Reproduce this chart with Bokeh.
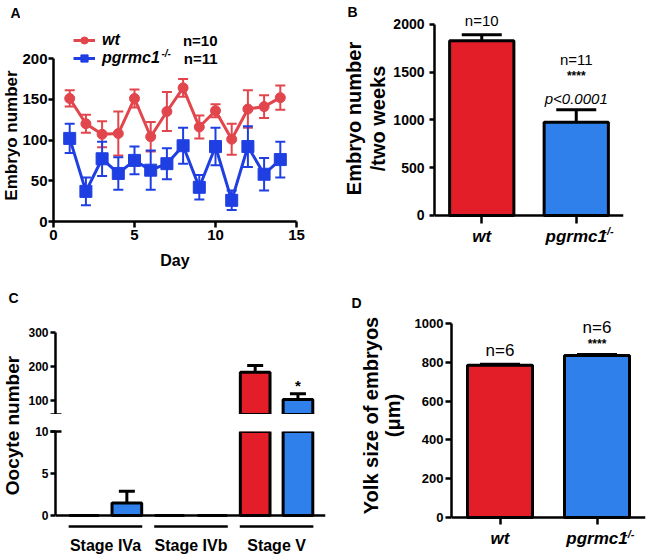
import numpy as np
from bokeh.plotting import figure
from bokeh.models import (Range1d, FactorRange, FixedTicker, Whisker, TeeHead,
                          ColumnDataSource, Label, Legend, LegendItem, Span)
from bokeh.layouts import row, column
from bokeh.embed import file_html
from bokeh.resources import INLINE
from bokeh.core.properties import value

FONT = "Liberation Sans"
RED_LINE = "#E2464D"
BLUE_LINE = "#1F3FE3"
RED_BAR = "#E31E28"
BLUE_BAR = "#2F80EA"

# ---------------- Panel A data ----------------
days = list(range(1, 15))
wt_embryos = [151, 120, 107, 108, 151, 104, 135, 164, 116, 136, 101, 138, 141, 152]
wt_embryos_sem = [10, 11, 16, 27, 11, 18, 24, 11, 14, 8, 19, 23, 14, 15]
ko_embryos = [102, 37, 77, 59, 75, 63, 71, 93, 42, 92, 26, 92, 58, 76]
ko_embryos_sem = [18, 17, 21, 20, 17, 24, 19, 22, 15, 23, 12, 25, 20, 22]
day_ticks = [0, 5, 10, 15]
embryo_ticks = [0, 50, 100, 150, 200]

# ---------------- Panel B data ----------------
genotypes = ["wt", "pgrmc1"]
genotype_sup = "-/-"
n_animals = [10, 11]
total_embryos = [1830, 975]
total_embryos_sem = [63, 133]
total_ticks = [0, 500, 1000, 1500, 2000]
stars_b = "****"
p_value_text = "p<0.0001"

# ---------------- Panel C data ----------------
stages = ["Stage IVa", "Stage IVb", "Stage V"]
oocyte_wt = [0, 0, 183]
oocyte_wt_sem = [0, 0, 20]
oocyte_ko = [1.5, 0, 103]
oocyte_ko_sem = [1.4, 0, 17]
oocyte_ko_sig = ["", "", "*"]
oocyte_low_ticks = [0, 5, 10]
oocyte_high_ticks = [100, 200, 300]
break_low, break_high = 10, 60

# ---------------- Panel D data ----------------
n_yolk = [6, 6]
yolk_size = [785, 835]
yolk_size_sem = [5, 5]
yolk_ticks = [0, 200, 400, 600, 800, 1000]
stars_d = "****"


def make_fig(width, height, x_range, y_range, left, right, top, bottom, x_axis=True, y_axis=True):
    p = figure(width=width, height=height, x_range=x_range, y_range=y_range,
               output_backend="svg", toolbar_location=None,
               x_axis_location="below" if x_axis else None,
               y_axis_location="left" if y_axis else None)
    p.min_border_left = left
    p.min_border_right = right
    p.min_border_top = top
    p.min_border_bottom = bottom
    p.outline_line_color = None
    p.grid.visible = False
    return p


def text_fig(width, height):
    p = figure(width=width, height=height, x_range=Range1d(0, 1), y_range=Range1d(0, 1),
               output_backend="svg", toolbar_location=None,
               x_axis_location=None, y_axis_location=None, min_border=0)
    p.outline_line_color = None
    p.grid.visible = False
    return p


def style_axis(ax, size, tick_out=5, standoff=1):
    ax.axis_line_width = 2.5
    ax.axis_line_color = "black"
    ax.major_tick_line_width = 2.5
    ax.major_tick_line_color = "black"
    ax.major_tick_in = 0
    ax.major_tick_out = tick_out
    ax.minor_tick_line_color = None
    ax.major_label_standoff = standoff
    ax.major_label_text_font = FONT
    ax.major_label_text_font_style = "bold"
    ax.major_label_text_font_size = size
    ax.major_label_text_color = "black"


def label(p, x, y, text, size, style="bold", align="left", baseline="middle", angle=0,
          x_units="screen", y_units="screen", **kw):
    p.add_layout(Label(x=x, y=y, x_units=x_units, y_units=y_units, text=text,
                       text_font=FONT, text_font_size=size, text_font_style=style,
                       text_align=align, text_baseline=baseline, angle=angle,
                       text_color="black", **kw))


# =============== Panel A ===============
a_lab = text_fig(20, 278)
label(a_lab, 15, 266, "A", "14px", align="center")
label(a_lab, 11, 143, "Embryo number", "17px", align="center", angle=np.pi / 2)

# frame fills the whole canvas; both axes are pinned at 0
pa = make_fig(308, 278, Range1d(-2.037, 16.975), Range1d(-69.9, 271.2), 0, 0, 0, 0)
src_a = ColumnDataSource(dict(
    day=days,
    wt=wt_embryos, wt_lo=np.subtract(wt_embryos, wt_embryos_sem), wt_hi=np.add(wt_embryos, wt_embryos_sem),
    ko=ko_embryos, ko_lo=np.subtract(ko_embryos, ko_embryos_sem), ko_hi=np.add(ko_embryos, ko_embryos_sem)))
rends = {}
for key, col, marker, size in (("wt", RED_LINE, "circle", 10), ("ko", BLUE_LINE, "square", 12)):
    pa.add_layout(Whisker(source=src_a, base="day", upper=f"{key}_hi", lower=f"{key}_lo",
                          line_color=col, line_width=2, level="glyph",
                          upper_head=TeeHead(size=10, line_color=col, line_width=2),
                          lower_head=TeeHead(size=10, line_color=col, line_width=2)))
    rl = pa.line("day", key, source=src_a, line_color=col, line_width=3)
    rs = pa.scatter("day", key, source=src_a, marker=marker, size=size, fill_color=col, line_color=col)
    rends[key] = [rl, rs]

style_axis(pa.xaxis[0], "15px", tick_out=6, standoff=2)
style_axis(pa.yaxis[0], "15px", tick_out=5, standoff=1)
pa.xaxis.fixed_location = 0
pa.yaxis.fixed_location = 0
pa.xaxis.ticker = FixedTicker(ticks=day_ticks)
pa.xaxis.bounds = (0, 15)
pa.xaxis.axis_label = "Day"
pa.xaxis.axis_label_text_font = FONT
pa.xaxis.axis_label_text_font_style = "bold"
pa.xaxis.axis_label_text_color = "black"
pa.xaxis.axis_label_text_font_size = "16px"
pa.xaxis.axis_label_standoff = 9
pa.yaxis.ticker = FixedTicker(ticks=embryo_ticks)
pa.yaxis.bounds = (0, 200)

leg = Legend(items=[LegendItem(label=genotypes[0], renderers=rends["wt"]),
                    LegendItem(label=genotypes[1], renderers=rends["ko"])],
             location=(53, 211), orientation="vertical", padding=0, margin=0, spacing=0,
             glyph_width=22, glyph_height=18, label_height=18, label_standoff=7,
             border_line_color=None, background_fill_alpha=0,
             label_text_font=FONT, label_text_font_style="bold italic",
             label_text_font_size="16px", label_text_color="black")
pa.add_layout(leg)
label(pa, 141, 225, genotype_sup, "10px", style="bold italic")
label(pa, 197, 238, f"n={n_animals[0]}", "15px", align="right")
label(pa, 197, 220, f"n={n_animals[1]}", "15px", align="right")

# =============== Panel B ===============
b_lab = text_fig(62, 278)
label(b_lab, 24, 267, "B", "14px", align="center")
label(b_lab, 25, 160, "Embryo number", "20px", align="center", angle=np.pi / 2)
label(b_lab, 49, 160, "/two weeks", "20px", align="center", angle=np.pi / 2)

pb = make_fig(259, 278, FactorRange(factors=genotypes), Range1d(-659.7, 2251), 39, 26, 0, 0)
hi_b = list(np.add(total_embryos, total_embryos_sem))
src_b = ColumnDataSource(dict(g=genotypes, mean=total_embryos, hi=hi_b, color=[RED_BAR, BLUE_BAR]))
pb.vbar(x="g", top="mean", width=0.68, fill_color="color", line_color="black", line_width=3, source=src_b)
pb.add_layout(Whisker(source=src_b, base="g", upper="hi", lower="mean", line_color="black",
                      line_width=3, level="glyph", lower_head=None,
                      upper_head=TeeHead(size=40, line_color="black", line_width=3)))
pb.text(x=genotypes, y=hi_b, text=[f"n={n}" for n in n_animals], y_offset=[-14, -50],
        text_align="center", text_baseline="middle", text_font=value(FONT),
        text_font_size="15px", text_color="black")
pb.text(x=[genotypes[1]], y=[hi_b[1]], text=[stars_b], y_offset=-34, text_align="center",
        text_baseline="middle", text_font=value(FONT), text_font_style="bold",
        text_font_size="12px", text_color="black")
pb.text(x=[genotypes[1]], y=[hi_b[1]], text=[p_value_text], y_offset=-11, text_align="center",
        text_baseline="middle", text_font=value(FONT), text_font_style="italic",
        text_font_size="15px", text_color="black")
style_axis(pb.xaxis[0], "17px", tick_out=8, standoff=4)
style_axis(pb.yaxis[0], "14px", tick_out=5, standoff=5)
pb.xaxis.fixed_location = 0
pb.xaxis.major_label_text_font_style = "bold italic"
pb.xaxis.major_label_overrides = {genotypes[1]: genotypes[1] + "\u00a0\u00a0"}
pb.yaxis.ticker = FixedTicker(ticks=total_ticks)
pb.yaxis.bounds = (0, 2000)
# superscript after the second category (synthetic coordinate 1.5 = centre of factor 2)
label(pb, 1.5, 0, genotype_sup, "11px", style="bold italic", x_units="data", y_units="data",
      x_offset=27, y_offset=-16)

# =============== Panel C ===============
c_lab = text_fig(25, 280)
label(c_lab, 13, 261, "C", "14px", align="center")
label(c_lab, 12, 133, "Oocyte number", "19px", align="center", angle=np.pi / 2)

stage_idx = np.arange(len(stages))
cols_wt = dict(x=stage_idx - 0.25, y=np.array(oocyte_wt, float),
               hi=np.add(oocyte_wt, oocyte_wt_sem))
cols_ko = dict(x=stage_idx + 0.25, y=np.array(oocyte_ko, float),
               hi=np.add(oocyte_ko, oocyte_ko_sem), sig=np.array(oocyte_ko_sig))
cx0, cx1 = -0.584, 2.572

pc_up = make_fig(303, 136, Range1d(cx0, cx1), Range1d(59, 300), 27, 3, 54, 0, x_axis=False)
pc_low = make_fig(303, 144, Range1d(cx0, cx1), Range1d(-1.55, 10), 27, 3, 17, 30)
for p, seg_min in ((pc_up, break_high), (pc_low, None)):
    for cols, color in ((cols_wt, RED_BAR), (cols_ko, BLUE_BAR)):
        mask = np.ones(len(stages), bool) if seg_min is None else cols["y"] > seg_min
        src = ColumnDataSource({k: v[mask] for k, v in cols.items()})
        p.vbar(x="x", top="y", width=0.347, fill_color=color, line_color="black", line_width=3, source=src)
        p.add_layout(Whisker(source=src, base="x", upper="hi", lower="y", line_color="black",
                             line_width=3, level="glyph", lower_head=None,
                             upper_head=TeeHead(size=16, line_color="black", line_width=3)))
        if "sig" in cols and seg_min is not None:
            p.text(x="x", y="hi", text="sig", y_offset=-8, text_align="center", text_baseline="middle",
                   text_font=value(FONT), text_font_style="bold", text_font_size="15px",
                   text_color="black", source=src)
    style_axis(p.yaxis[0], "12px", tick_out=5, standoff=2)
    p.yaxis.minor_tick_line_color = "black"
    p.yaxis.minor_tick_line_width = 2.5
    p.yaxis.minor_tick_out = 5
    p.yaxis.minor_tick_in = 6

pc_up.yaxis.ticker = FixedTicker(ticks=oocyte_high_ticks, minor_ticks=[break_high])
pc_up.yaxis.bounds = (59, 300)
pc_low.yaxis.ticker = FixedTicker(ticks=oocyte_low_ticks, minor_ticks=[break_low])
pc_low.yaxis.bounds = (0, 10)
pc_low.add_layout(Span(location=0, dimension="width", line_color="black", line_width=2.5))
pc_low.segment(x0=stage_idx - 0.43, x1=stage_idx + 0.43, y0=-1.3, y1=-1.3,
               line_color="black", line_width=2.5)
style_axis(pc_low.xaxis[0], "16px", tick_out=0, standoff=8)
pc_low.xaxis.axis_line_color = None
pc_low.xaxis.major_tick_line_color = None
pc_low.xaxis.ticker = FixedTicker(ticks=[int(i) for i in stage_idx])
pc_low.xaxis.major_label_overrides = {int(i): s for i, s in zip(stage_idx, stages)}

# =============== Panel D ===============
d_lab = text_fig(77, 280)
label(d_lab, 28, 256, "D", "14px", align="center")
label(d_lab, 42, 143, "Yolk size of embryos", "20px", align="center", angle=np.pi / 2)
label(d_lab, 64, 143, "(\u03bcm)", "20px", align="center", angle=np.pi / 2)

pd_ = make_fig(244, 280, FactorRange(factors=genotypes), Range1d(-211, 1232), 46, 4, 0, 0)
hi_d = list(np.add(yolk_size, yolk_size_sem))
src_d = ColumnDataSource(dict(g=genotypes, mean=yolk_size, hi=hi_d, color=[RED_BAR, BLUE_BAR]))
pd_.vbar(x="g", top="mean", width=0.67, fill_color="color", line_color="black", line_width=3, source=src_d)
pd_.add_layout(Whisker(source=src_d, base="g", upper="hi", lower="mean", line_color="black",
                       line_width=3, level="glyph", lower_head=None,
                       upper_head=TeeHead(size=40, line_color="black", line_width=3)))
pd_.text(x=genotypes, y=hi_d, text=[f"n={n}" for n in n_yolk], y_offset=[-14, -27],
         text_align="center", text_baseline="middle", text_font=value(FONT),
         text_font_size="17px", text_color="black")
pd_.text(x=[genotypes[1]], y=[hi_d[1]], text=[stars_d], y_offset=-11, text_align="center",
         text_baseline="middle", text_font=value(FONT), text_font_style="bold",
         text_font_size="12px", text_color="black")
style_axis(pd_.xaxis[0], "17px", tick_out=7, standoff=4)
style_axis(pd_.yaxis[0], "13px", tick_out=6, standoff=2)
pd_.xaxis.fixed_location = 0
pd_.xaxis.major_label_text_font_style = "bold italic"
pd_.xaxis.major_label_overrides = {genotypes[1]: genotypes[1] + "\u00a0\u00a0"}
pd_.yaxis.ticker = FixedTicker(ticks=yolk_ticks)
pd_.yaxis.bounds = (0, 1000)
label(pd_, 1.5, 0, genotype_sup, "11px", style="bold italic", x_units="data", y_units="data",
      x_offset=27, y_offset=-16)

layout = row(column(row(a_lab, pa), row(c_lab, column(pc_up, pc_low))),
             column(row(b_lab, pb), row(d_lab, pd_)))
open("out.html", "w").write(file_html(layout, INLINE))
